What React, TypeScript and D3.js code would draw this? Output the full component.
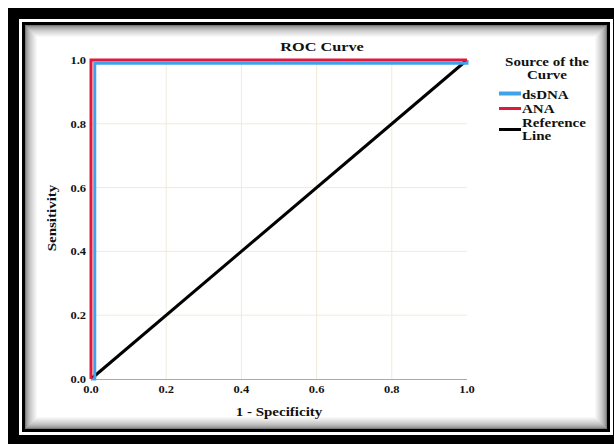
import * as d3 from 'd3';
import { useEffect, useRef } from 'react';

// axis ticks, both axes
const tickValues = [0, 0.2, 0.4, 0.6, 0.8, 1.0];

// ROC points [1 - specificity, sensitivity]
const dsDNA: [number, number][] = [[0, 0], [0.01, 0], [0.01, 0.99], [1, 0.99], [1, 1]];
const ANA: [number, number][] = [[0, 0], [0, 1], [1, 1]];
const referenceLine: [number, number][] = [[0, 0], [1, 1]];

const seriesNames = ['dsDNA', 'ANA', 'Reference Line'];
const seriesColors = ['#3ea2ec', '#e2173c', '#000000'];

const FONT = "'Liberation Serif', 'Times New Roman', serif";
const STRETCH = 1.25;

function App() {
  const svgRef = useRef<SVGSVGElement>(null);

  useEffect(() => {
    const w = 614;
    const h = 444;
    const svg = d3.select(svgRef.current);
    svg.selectAll('*').remove();
    svg.attr('width', w).attr('height', h);

    // frame: thick outer black, white gap, thin inner black, inner shadow
    svg.append('rect').attr('x', 0).attr('y', 0).attr('width', w).attr('height', h).attr('fill', '#fff');
    svg.append('rect').attr('x', 8).attr('y', 8).attr('width', 620).attr('height', 450).attr('fill', '#000');
    svg.append('rect').attr('x', 19).attr('y', 19).attr('width', 594).attr('height', 416).attr('fill', '#fff');
    svg.append('rect').attr('x', 23.5).attr('y', 23.5).attr('width', 585).attr('height', 407)
      .attr('fill', '#fff').attr('stroke', '#000').attr('stroke-width', 3);
    const shade = d3.interpolateRgb('#7a7a7a', '#ffffff');
    for (let i = 0; i < 13; i++) {
      svg.append('rect')
        .attr('x', 25.5 + i).attr('y', 25.5 + i)
        .attr('width', 581 - 2 * i).attr('height', 403 - 2 * i)
        .attr('fill', 'none')
        .attr('stroke', shade(Math.pow(i / 12, 0.6)));
    }

    const left = 91, right = 467, top = 60, bottom = 379;
    const x = d3.scaleLinear().domain([0, 1]).range([left, right]);
    const y = d3.scaleLinear().domain([0, 1]).range([bottom, top]);

    // stretched bold serif text helper
    const label = (tx: number, ty: number, str: string, size: number, anchor: string, rot = 0) => {
      svg.append('g')
        .attr('transform', `translate(${tx},${ty}) rotate(${rot}) scale(${STRETCH},1)`)
        .append('text')
        .attr('text-anchor', anchor)
        .attr('font-family', FONT)
        .attr('font-weight', 'bold')
        .attr('font-size', size)
        .attr('fill', '#111')
        .text(str);
    };

    // grid
    const grid = svg.append('g').attr('stroke', '#efebd9').attr('stroke-width', 1);
    tickValues.filter(t => t > 0 && t < 1).forEach(t => {
      grid.append('line').attr('x1', x(t)).attr('x2', x(t)).attr('y1', y(0)).attr('y2', y(1));
      grid.append('line').attr('x1', x(0)).attr('x2', x(1)).attr('y1', y(t)).attr('y2', y(t));
    });

    // bottom axis line
    svg.append('line').attr('x1', x(0)).attr('x2', x(1)).attr('y1', y(0) + 0.5).attr('y2', y(0) + 0.5)
      .attr('stroke', '#aaa');

    // ticks
    tickValues.forEach(t => {
      label(x(t), 393, t.toFixed(1), 10, 'middle');
      label(86, y(t) + 4, t.toFixed(1), 10, 'end');
    });

    const line = d3.line<[number, number]>().x(d => x(d[0])).y(d => y(d[1]));
    const curves = [dsDNA, ANA, referenceLine];
    const widths = [3, 3, 3];
    [2, 0, 1].forEach(i => {
      svg.append('path').attr('d', line(curves[i]))
        .attr('fill', 'none')
        .attr('stroke', seriesColors[i])
        .attr('stroke-width', widths[i])
        .attr('stroke-linejoin', 'miter');
    });

    // titles
    label(322, 51, 'ROC Curve', 13, 'middle');
    label(279, 416, '1 - Specificity', 12, 'middle');
    label(56, 218, 'Sensitivity', 12, 'middle', -90);

    // legend
    label(547, 66, 'Source of the', 12, 'middle');
    label(547, 79, 'Curve', 12, 'middle');
    const legendY = [93.5, 108.5, 129.5];
    const legendW = [4, 3, 3];
    seriesNames.forEach((name, i) => {
      svg.append('line').attr('x1', 499).attr('x2', 521)
        .attr('y1', legendY[i]).attr('y2', legendY[i])
        .attr('stroke', seriesColors[i]).attr('stroke-width', legendW[i]);
    });
    label(522, 99, 'dsDNA', 12, 'start');
    label(522, 113, 'ANA', 12, 'start');
    label(522, 127, 'Reference', 12, 'start');
    label(522, 140, 'Line', 12, 'start');
  });

  return (
    <div>
      <svg ref={svgRef} style={{ position: 'absolute', left: 0, top: 0 }}></svg>
    </div>
  );
}

export default App;
